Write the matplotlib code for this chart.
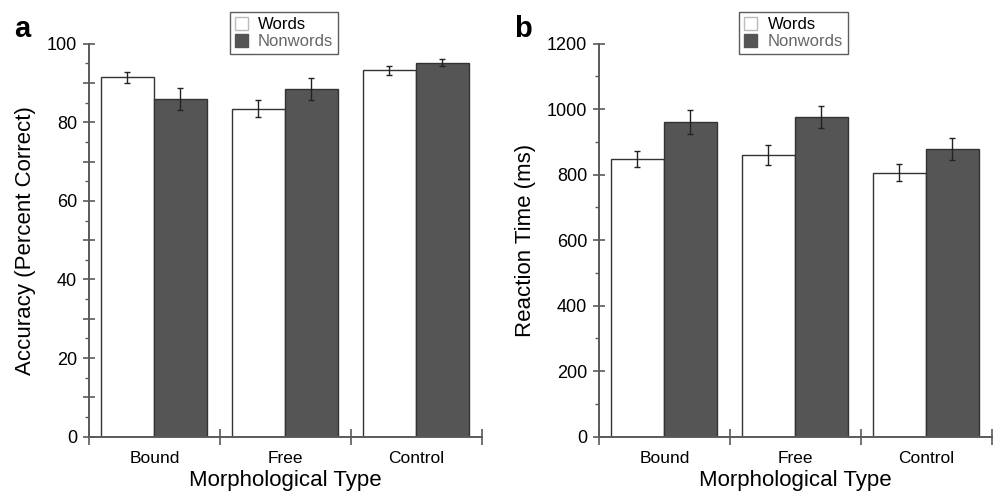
#!/usr/bin/env python3
"""Accuracy and reaction time by morphological type, words vs nonwords."""

import numpy as np
import matplotlib
matplotlib.use("Agg")
import matplotlib.pyplot as plt
import matplotlib.ticker as ticker
from matplotlib.patches import Patch

plt.rcParams["font.family"] = ["Liberation Sans", "DejaVu Sans"]

categories = ["Bound", "Free", "Control"]

acc_words = [91.5, 83.5, 93.2]
acc_words_err = [1.4, 2.1, 1.2]
acc_nonwords = [85.8, 88.5, 95.2]
acc_nonwords_err = [2.8, 2.8, 1.0]

rt_words = [847, 860, 806]
rt_words_err = [24, 31, 26]
rt_nonwords = [960, 976, 879]
rt_nonwords_err = [36, 34, 33]

AXIS_COLOR = "#5a5a5a"
EDGE = "#333333"
DARK = "#555555"


def draw_panel(ax, words, words_err, nonwords, nonwords_err, ymax, major, minor, label_step, ylabel):
    x = np.arange(len(categories))
    w = 0.405
    ax.bar(x + 0.09, words, width=w, align="edge", color="white", edgecolor=EDGE, linewidth=1.0, zorder=2)
    ax.bar(x + 0.495, nonwords, width=w, align="edge", color=DARK, edgecolor=EDGE, linewidth=1.0, zorder=2)
    ax.errorbar(x + 0.09 + w / 2, words, yerr=words_err, fmt="none", ecolor="#222222",
                elinewidth=1.0, capsize=2.5, capthick=1.0, zorder=3)
    ax.errorbar(x + 0.495 + w / 2, nonwords, yerr=nonwords_err, fmt="none", ecolor="#222222",
                elinewidth=1.0, capsize=2.5, capthick=1.0, zorder=3)

    ax.set_xlim(0, len(categories))
    ax.set_ylim(0, ymax)

    for side in ("top", "right"):
        ax.spines[side].set_visible(False)
    for side in ("left", "bottom"):
        ax.spines[side].set_color(AXIS_COLOR)
        ax.spines[side].set_linewidth(1.4)

    # y axis: crossing major ticks, short outward minor ticks
    ax.yaxis.set_major_locator(ticker.MultipleLocator(major))
    ax.yaxis.set_minor_locator(ticker.MultipleLocator(minor))
    ax.yaxis.set_major_formatter(ticker.FuncFormatter(
        lambda v, _: f"{v:.0f}" if round(v) % label_step == 0 else ""))
    ax.tick_params(axis="y", which="major", direction="inout", length=9, width=1.2,
                   color=AXIS_COLOR, labelsize=13, pad=4)
    ax.tick_params(axis="y", which="minor", direction="out", length=3, width=1.0, color=AXIS_COLOR)

    # x axis: crossing ticks at category boundaries, labels centred between them
    ax.xaxis.set_major_locator(ticker.FixedLocator(np.arange(len(categories) + 1)))
    ax.xaxis.set_major_formatter(ticker.NullFormatter())
    ax.xaxis.set_minor_locator(ticker.FixedLocator(x + 0.5))
    ax.xaxis.set_minor_formatter(ticker.FixedFormatter(categories))
    ax.tick_params(axis="x", which="major", direction="inout", length=12, width=1.2, color=AXIS_COLOR)
    ax.tick_params(axis="x", which="minor", length=0, labelsize=12.5, pad=10)

    ax.set_xlabel("Morphological Type", fontsize=16, labelpad=3)
    ax.set_ylabel(ylabel, fontsize=16, labelpad=8)


def main():
    fig = plt.figure(figsize=(9.93, 4.93), dpi=100)
    ax_a = fig.add_axes([0.0896, 0.1142, 0.3958, 0.7972])
    ax_b = fig.add_axes([0.6032, 0.1142, 0.3958, 0.7972])

    draw_panel(ax_a, acc_words, acc_words_err, acc_nonwords, acc_nonwords_err,
               100, 10, 5, 20, "Accuracy (Percent Correct)")
    draw_panel(ax_b, rt_words, rt_words_err, rt_nonwords, rt_nonwords_err,
               1200, 200, 100, 200, "Reaction Time (ms)")

    handles = [Patch(facecolor="white", edgecolor="#bbbbbb", linewidth=1.0),
               Patch(facecolor=DARK, edgecolor=DARK, linewidth=1.0)]
    for cx in (0.286, 0.799):
        leg = fig.legend(handles, ["Words", "Nonwords"], loc="upper center",
                         bbox_to_anchor=(cx, 0.975), fontsize=12, frameon=True,
                         fancybox=False, borderaxespad=0, handlelength=0.8, handleheight=0.8,
                         handletextpad=0.6, borderpad=0.3, labelspacing=0.1)
        leg.get_frame().set_edgecolor("#333333")
        leg.get_frame().set_linewidth(1.0)
        leg.get_texts()[1].set_color("#666666")

    fig.text(0.014, 0.925, "a", fontsize=21, fontweight="bold")
    fig.text(0.518, 0.925, "b", fontsize=21, fontweight="bold")

    fig.savefig("out.png", dpi=100)


if __name__ == "__main__":
    main()
